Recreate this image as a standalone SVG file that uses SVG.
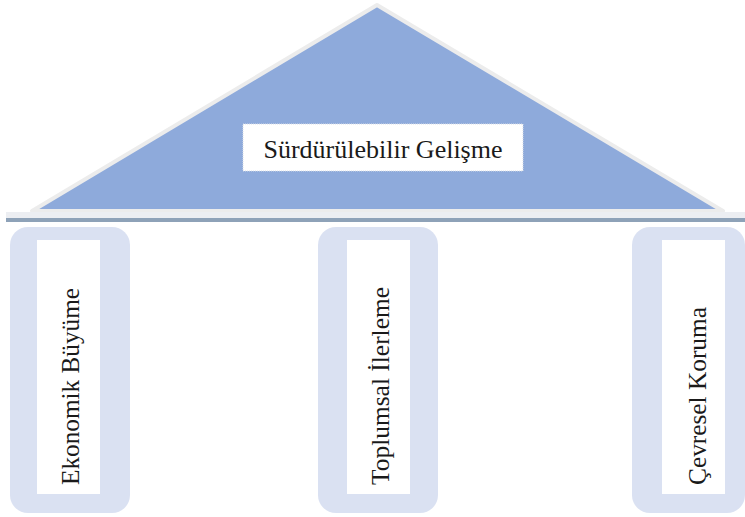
<svg xmlns="http://www.w3.org/2000/svg" width="745" height="517" viewBox="0 0 745 517">
  <style>
    .label { font-family: "Liberation Serif", "Times New Roman", serif; fill: #1a1a1a; }
    .pillar { fill: #dae1f2; }
    .pillar-face { fill: #ffffff; }
  </style>
  <rect width="745" height="517" fill="#ffffff"/>

  <!-- roof -->
  <g id="roof">
    <polygon points="377,5 723,211 32,211" fill="#8eaadb" stroke="#ececec" stroke-width="4" stroke-linejoin="round"/>
    <rect x="6" y="212" width="739" height="6" fill="#eceef2"/>
    <rect x="6" y="218" width="739" height="4" fill="#8ea2b8"/>
    <rect x="243" y="124" width="280" height="47" fill="#ffffff" stroke="#d8dde6" stroke-width="1" stroke-dasharray="1 1"/>
    <text class="label" x="383" y="158" font-size="25" text-anchor="middle" textLength="239" lengthAdjust="spacingAndGlyphs">Sürdürülebilir Gelişme</text>
  </g>

  <!-- pillars -->
  <g id="pillar-ekonomik">
    <rect class="pillar" x="10" y="227" width="120" height="286" rx="18"/>
    <rect class="pillar-face" x="37" y="240" width="63" height="254"/>
    <text class="label" transform="translate(79,485) rotate(-90)" font-size="25" textLength="197" lengthAdjust="spacingAndGlyphs">Ekonomik Büyüme</text>
  </g>
  <g id="pillar-toplumsal">
    <rect class="pillar" x="318" y="227" width="120" height="286" rx="18"/>
    <rect class="pillar-face" x="347" y="240" width="63" height="254"/>
    <text class="label" transform="translate(389,485) rotate(-90)" font-size="25" textLength="198" lengthAdjust="spacingAndGlyphs">Toplumsal İlerleme</text>
  </g>
  <g id="pillar-cevresel">
    <rect class="pillar" x="632" y="227" width="113" height="286" rx="18"/>
    <rect class="pillar-face" x="662" y="240" width="63" height="254"/>
    <text class="label" transform="translate(706,485) rotate(-90)" font-size="25" textLength="178" lengthAdjust="spacingAndGlyphs">Çevresel Koruma</text>
  </g>

  <g id="connectors"></g>
</svg>
